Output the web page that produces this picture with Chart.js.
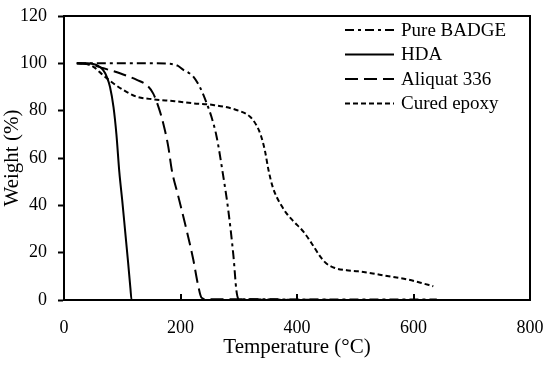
<!DOCTYPE html>
<html>
<head>
<meta charset="utf-8">
<script src="https://cdn.jsdelivr.net/npm/chart.js@4.4.1/dist/chart.umd.min.js"></script>
<style>
  html, body { margin: 0; padding: 0; background: #fff; }
  #wrap { width: 550px; height: 366px; }
</style>
</head>
<body>
<div id="wrap"><canvas id="tga"></canvas></div>
<script>
// TGA curves, weight (%) vs temperature (°C)
const seriesNames = ['Pure BADGE', 'HDA', 'Aliquat 336', 'Cured epoxy'];

const badgeT = [22, 100, 150, 182, 195, 205, 214, 222, 233, 245, 253, 262, 273, 282, 291, 296, 300, 320, 450, 640];
const badgeW = [100, 100, 100, 99.8, 99, 97.2, 96, 94.4, 90.1, 83.1, 77.5, 69, 53, 38, 18.3, 4, 0.4, 0.3, 0.2, 0.2];

const hdaT = [22, 40, 50, 58, 67, 74, 79, 85, 90, 95, 100, 105, 110, 114, 116, 150, 300, 500, 640];
const hdaW = [100, 100, 99.7, 99, 97.2, 94, 90, 81.5, 70, 54, 42, 29, 16, 5, 0, 0, 0, 0, 0];

const aliquatT = [22, 45, 68, 96, 125, 142, 153, 162, 170, 179, 185, 196, 210, 222, 230, 236, 245, 300, 400, 640];
const aliquatW = [100, 99.5, 97.9, 95.8, 93, 90.8, 87.3, 81.7, 75, 64.8, 55, 44, 30, 17, 6.5, 1, 0.3, 0.3, 0.1, 0];

const epoxyT = [22, 35, 50, 67, 85, 102, 125, 153, 190, 222, 256, 296, 319, 330, 338, 345, 351, 358, 365, 373, 382, 395, 411, 425, 440, 450, 465, 485, 505, 530, 551, 571, 591, 612, 634];
const epoxyW = [100, 99.9, 98.6, 95, 91.5, 88.7, 85.9, 84.8, 84, 83.1, 82.4, 80.3, 77.5, 74, 69.5, 63, 55, 48, 43.6, 40, 36.6, 33, 28.9, 24, 18.3, 15.5, 13.5, 12.6, 12.1, 11.2, 10.3, 9.5, 8.6, 7.3, 5.8];

const xTicks = [0, 200, 400, 600, 800];
const yTicks = [0, 20, 40, 60, 80, 100, 120];

const FONT = 'Liberation Serif';

function pts(xs, ys) {
  return xs.map((x, i) => ({ x: x, y: ys[i] }));
}

function line(label, xs, ys, dash) {
  return {
    label: label,
    data: pts(xs, ys),
    borderColor: '#000',
    borderWidth: 2,
    borderDash: dash,
    pointRadius: 0,
    fill: false,
    cubicInterpolationMode: 'monotone'
  };
}

// top/right frame, inward x ticks and the legend box
const framePlugin = {
  id: 'framePlugin',
  afterDatasetsDraw(chart) {
    const ctx = chart.ctx;
    const a = chart.chartArea;
    const xs = chart.scales.x;
    ctx.save();
    ctx.strokeStyle = '#000';
    ctx.lineWidth = 2;
    ctx.setLineDash([]);
    ctx.strokeRect(a.left, a.top, a.right - a.left, a.bottom - a.top);
    xTicks.forEach(v => {
      const px = Math.round(xs.getPixelForValue(v));
      if (px <= a.left + 1 || px >= a.right - 1) return;
      ctx.beginPath();
      ctx.moveTo(px, a.bottom);
      ctx.lineTo(px, a.bottom - 6);
      ctx.stroke();
    });

    // legend
    ctx.font = '19px "' + FONT + '"';
    ctx.fillStyle = '#000';
    ctx.textBaseline = 'middle';
    chart.data.datasets.forEach((ds, i) => {
      const y = 30 + i * 24.5;
      ctx.beginPath();
      ctx.setLineDash(ds.borderDash || []);
      ctx.moveTo(345, y);
      ctx.lineTo(394, y);
      ctx.stroke();
      ctx.fillText(ds.label, 401, y + 1);
    });
    ctx.restore();
  }
};

new Chart(document.getElementById('tga'), {
  type: 'line',
  data: {
    datasets: [
      line(seriesNames[0], badgeT, badgeW, [9, 4, 3, 4]),
      line(seriesNames[1], hdaT, hdaW, []),
      line(seriesNames[2], aliquatT, aliquatW, [13, 6]),
      line(seriesNames[3], epoxyT, epoxyW, [5, 3])
    ]
  },
  options: {
    responsive: true,
    maintainAspectRatio: false,
    animation: false,
    layout: { padding: { left: 0, right: 20, top: 16, bottom: 0 } },
    plugins: {
      legend: { display: false },
      tooltip: { enabled: false }
    },
    scales: {
      x: {
        type: 'linear',
        min: 0,
        max: 800,
        afterFit: s => { s.height = 66; s.paddingLeft = 0; s.paddingRight = 0; },
        afterBuildTicks: s => { s.ticks = xTicks.map(v => ({ value: v })); },
        grid: { display: true, drawOnChartArea: false, drawTicks: false },
        border: { color: '#000', width: 2 },
        ticks: { color: '#000', padding: 17, font: { family: FONT, size: 18 } },
        title: {
          display: true,
          text: 'Temperature (°C)',
          color: '#000',
          padding: { top: 0, bottom: 6 },
          font: { family: FONT, size: 21 }
        }
      },
      y: {
        min: 0,
        max: 120,
        afterFit: s => { s.width = 64; s.paddingTop = 0; s.paddingBottom = 0; },
        afterBuildTicks: s => { s.ticks = yTicks.map(v => ({ value: v })); },
        grid: { drawOnChartArea: false, tickLength: 6, tickWidth: 2, tickColor: '#000' },
        border: { color: '#000', width: 2 },
        ticks: { color: '#000', padding: 11, font: { family: FONT, size: 18 } },
        title: {
          display: true,
          text: 'Weight (%)',
          color: '#000',
          padding: { top: 0, bottom: 0 },
          font: { family: FONT, size: 21 }
        }
      }
    }
  },
  plugins: [framePlugin]
});
</script>
</body>
</html>
